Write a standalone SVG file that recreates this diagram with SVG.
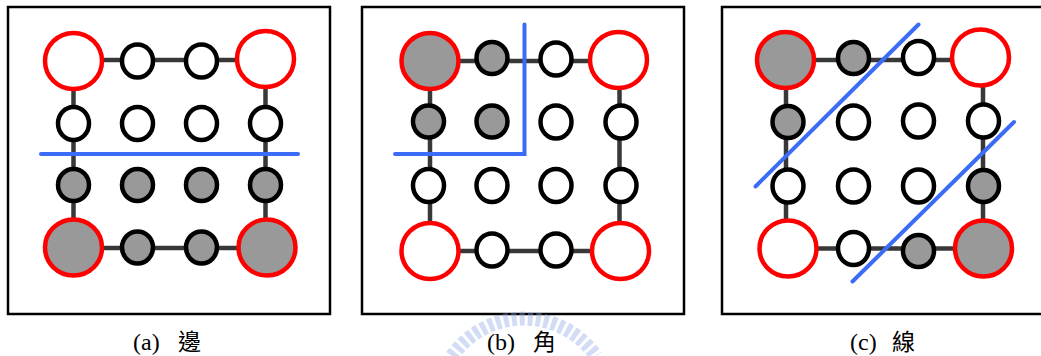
<svg xmlns="http://www.w3.org/2000/svg" width="1041" height="356" viewBox="0 0 1041 356">
<style>
.frame{fill:none;stroke:#000;stroke-width:2.5}
.edge{stroke:#383838;stroke-width:4.5;fill:none}
.big{stroke:#ff0000;stroke-width:4.5}
.small{stroke:#000;stroke-width:4.5}
.w{fill:#fff}
.g{fill:#999}
.cut{stroke:#3b6cf7;stroke-width:4;fill:none;stroke-linecap:round;stroke-linejoin:miter}
.cap{font-family:"Liberation Serif","Noto Sans CJK TC",serif;font-size:24px;fill:#000}
.cjk{font-family:"Noto Sans CJK TC","Noto Sans CJK SC",serif;font-size:23px;fill:#000}
</style>
<rect width="1041" height="356" fill="#fff"/>
<g id="frames">
<rect class="frame" x="8" y="7" width="322" height="307"/>
<rect class="frame" x="362" y="7" width="322" height="307"/>
<rect class="frame" x="722" y="7" width="330" height="307"/>
</g>
<g id="watermark" opacity="0.4">
<path d="M452,356 A88,88 0 0 1 596,356" fill="none" stroke="#8fa8e6" stroke-width="14" stroke-dasharray="5 3"/>
</g>
<g id="connectors">
<path class="edge" d="M73.5,60 H265.5 V248 H73.5 Z"/>
<path class="edge" d="M430,61 H619.5 V251 H430 Z"/>
<path class="edge" d="M786,60 H983 V248.5 H786 Z"/>
</g>
<g id="panel-a">
<g id="a-n11"><ellipse class="big w" cx="73.5" cy="61" rx="28.5" ry="28"/></g>
<g id="a-n12"><ellipse class="small w" cx="137.5" cy="61" rx="15.5" ry="16.5"/></g>
<g id="a-n13"><ellipse class="small w" cx="201.5" cy="61" rx="15.5" ry="16.5"/></g>
<g id="a-n14"><ellipse class="big w" cx="265.5" cy="59" rx="28.5" ry="28"/></g>
<g id="a-n21"><ellipse class="small w" cx="73.5" cy="123.5" rx="15.5" ry="16.5"/></g>
<g id="a-n22"><ellipse class="small w" cx="137.5" cy="123.5" rx="15.5" ry="16.5"/></g>
<g id="a-n23"><ellipse class="small w" cx="201.5" cy="123.5" rx="15.5" ry="16.5"/></g>
<g id="a-n24"><ellipse class="small w" cx="265.5" cy="123.5" rx="15.5" ry="16.5"/></g>
<g id="a-n31"><ellipse class="small g" cx="73.5" cy="185" rx="15.5" ry="16"/></g>
<g id="a-n32"><ellipse class="small g" cx="137.5" cy="185" rx="15.5" ry="16"/></g>
<g id="a-n33"><ellipse class="small g" cx="201.5" cy="185" rx="15.5" ry="16"/></g>
<g id="a-n34"><ellipse class="small g" cx="265.5" cy="185" rx="15.5" ry="16"/></g>
<g id="a-n41"><ellipse class="big g" cx="73.5" cy="247.5" rx="28.5" ry="28"/></g>
<g id="a-n42"><ellipse class="small g" cx="137.5" cy="247.5" rx="15.5" ry="16"/></g>
<g id="a-n43"><ellipse class="small g" cx="201.5" cy="247.5" rx="15.5" ry="16"/></g>
<g id="a-n44"><ellipse class="big g" cx="267" cy="247.5" rx="28.5" ry="28"/></g>
<line class="cut" x1="41" y1="154" x2="298" y2="154"/>
</g>
<g id="panel-b">
<g id="b-n11"><ellipse class="big g" cx="430" cy="61" rx="28.5" ry="28"/></g>
<g id="b-n12"><ellipse class="small g" cx="492" cy="58" rx="15.5" ry="16"/></g>
<g id="b-n13"><ellipse class="small w" cx="556" cy="59" rx="15.5" ry="16.5"/></g>
<g id="b-n14"><ellipse class="big w" cx="618.5" cy="60" rx="28.5" ry="28"/></g>
<g id="b-n21"><ellipse class="small g" cx="428.5" cy="121.5" rx="15.5" ry="16"/></g>
<g id="b-n22"><ellipse class="small g" cx="492" cy="121.5" rx="15.5" ry="16"/></g>
<g id="b-n23"><ellipse class="small w" cx="556" cy="122" rx="15.5" ry="16.5"/></g>
<g id="b-n24"><ellipse class="small w" cx="621" cy="122" rx="15.5" ry="16.5"/></g>
<g id="b-n31"><ellipse class="small w" cx="428.5" cy="185.5" rx="15.5" ry="16.5"/></g>
<g id="b-n32"><ellipse class="small w" cx="492" cy="185.5" rx="15.5" ry="16.5"/></g>
<g id="b-n33"><ellipse class="small w" cx="556" cy="185.5" rx="15.5" ry="16.5"/></g>
<g id="b-n34"><ellipse class="small w" cx="621" cy="185.5" rx="15.5" ry="16.5"/></g>
<g id="b-n41"><ellipse class="big w" cx="430" cy="251" rx="28.5" ry="28"/></g>
<g id="b-n42"><ellipse class="small w" cx="492" cy="250" rx="15.5" ry="16.5"/></g>
<g id="b-n43"><ellipse class="small w" cx="556" cy="250" rx="15.5" ry="16.5"/></g>
<g id="b-n44"><ellipse class="big w" cx="620.5" cy="251" rx="28.5" ry="28"/></g>
<polyline class="cut" points="395,154 524.5,154 524.5,24.5"/>
</g>
<g id="panel-c">
<g id="c-n11"><ellipse class="big g" cx="785.5" cy="60" rx="28.5" ry="28"/></g>
<g id="c-n12"><ellipse class="small g" cx="853.5" cy="58" rx="15.5" ry="16"/></g>
<g id="c-n13"><ellipse class="small w" cx="918.5" cy="57.5" rx="15.5" ry="16.5"/></g>
<g id="c-n14"><ellipse class="big w" cx="980.5" cy="57.5" rx="28.5" ry="28"/></g>
<g id="c-n21"><ellipse class="small g" cx="788" cy="122" rx="15.5" ry="16"/></g>
<g id="c-n22"><ellipse class="small w" cx="853.5" cy="122" rx="15.5" ry="16.5"/></g>
<g id="c-n23"><ellipse class="small w" cx="918.5" cy="121" rx="15.5" ry="16.5"/></g>
<g id="c-n24"><ellipse class="small w" cx="983.5" cy="121" rx="15.5" ry="16.5"/></g>
<g id="c-n31"><ellipse class="small w" cx="788" cy="186" rx="15.5" ry="16.5"/></g>
<g id="c-n32"><ellipse class="small w" cx="853.5" cy="186" rx="15.5" ry="16.5"/></g>
<g id="c-n33"><ellipse class="small w" cx="918.5" cy="186" rx="15.5" ry="16.5"/></g>
<g id="c-n34"><ellipse class="small g" cx="983.5" cy="186" rx="15.5" ry="16"/></g>
<g id="c-n41"><ellipse class="big w" cx="788" cy="248.5" rx="28.5" ry="28"/></g>
<g id="c-n42"><ellipse class="small w" cx="853.5" cy="248.5" rx="15.5" ry="16.5"/></g>
<g id="c-n43"><ellipse class="small g" cx="918.5" cy="251" rx="15.5" ry="16"/></g>
<g id="c-n44"><ellipse class="big g" cx="983.5" cy="248.5" rx="28.5" ry="28"/></g>
<line class="cut" x1="755.5" y1="186.5" x2="918.5" y2="24.5"/>
<line class="cut" x1="852.5" y1="281.5" x2="1014" y2="122"/>
</g>
<g id="captions">
<text class="cap" x="133" y="350">(a)</text><text class="cjk" x="178" y="350">邊</text>
<text class="cap" x="487" y="350">(b)</text><text class="cjk" x="533" y="350">角</text>
<text class="cap" x="850" y="350">(c)</text><text class="cjk" x="892" y="350">線</text>
</g>
</svg>
